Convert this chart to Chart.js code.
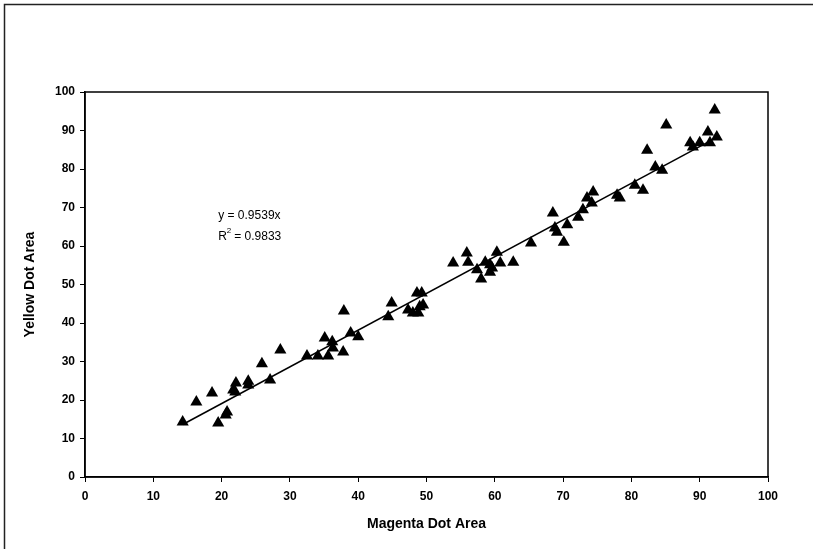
<!DOCTYPE html>
<html>
<head>
<meta charset="utf-8">
<script src="https://cdn.jsdelivr.net/npm/chart.js@4.4.1/dist/chart.umd.min.js"></script>
<style>
  html, body { margin: 0; padding: 0; background: #fff; }
  #wrap { width: 813px; height: 549px; }
</style>
</head>
<body>
<div id="wrap"><canvas id="grafico" width="813" height="549"></canvas></div>
<script>
// Area de punto magenta / amarillo
const magenta = [
  14.3, 16.3, 18.6, 19.5, 20.8, 20.6, 21.7, 22.1, 22.0, 23.9, 23.9, 25.9, 27.1,
  28.6, 32.5, 34.1, 35.1, 35.6, 36.2, 36.3, 37.8, 37.9, 38.9, 40.0,
  44.4, 44.9, 47.3, 48.0, 48.6, 49.3, 48.8, 49.5, 49.0,
  53.9, 55.9, 56.1, 57.4, 58.0, 58.6, 59.3, 59.3, 59.6, 60.3, 60.8, 62.7,
  65.3, 68.8, 69.1, 70.6, 70.1, 68.5,
  72.2, 72.9, 73.5, 74.4, 74.2, 77.9, 78.3, 80.5, 81.7, 83.5, 84.5,
  82.3, 85.1, 88.6, 89.0, 90.0, 91.2, 91.5, 92.5, 92.2
];
const amarillo = [
  14.3, 19.5, 21.8, 14.0, 16.9, 16.1, 22.6, 24.4, 22.1, 24.9, 23.9, 29.4, 25.2,
  33.0, 31.4, 31.4, 36.1, 31.4, 35.1, 33.5, 32.5, 43.1, 37.4, 36.4,
  41.6, 45.2, 43.4, 42.6, 47.8, 47.8, 42.6, 44.7, 44.2,
  55.6, 58.2, 55.8, 53.8, 51.4, 55.8, 55.1, 53.2, 54.3, 58.4, 55.6, 55.8,
  60.8, 64.7, 63.6, 65.5, 61.0, 68.6,
  67.5, 69.4, 72.5, 74.0, 71.2, 73.2, 72.5, 75.8, 74.5, 80.5, 79.7,
  84.9, 91.4, 86.8, 85.7, 86.8, 89.6, 86.8, 88.3, 95.3
];

// linea de tendencia y = pendiente * x
const pendiente = 0.9539;
const r2 = 0.9833;
const tendenciaX = [14.3, 92.5];
const ticksX = [0, 10, 20, 30, 40, 50, 60, 70, 80, 90, 100];
const ticksY = [0, 10, 20, 30, 40, 50, 60, 70, 80, 90, 100];

const fuente = "'Liberation Sans', Arial, sans-serif";

const puntos = magenta.map((x, i) => ({ x: x, y: amarillo[i] }));
const tendencia = tendenciaX.map(x => ({ x: x, y: pendiente * x }));

const marcos = {
  id: 'marcos',
  beforeDraw(chart) {
    const c = chart.ctx;
    c.save();
    c.fillStyle = '#fff';
    c.fillRect(0, 0, chart.width, chart.height);
    c.strokeStyle = '#222';
    c.lineWidth = 1.5;
    c.beginPath();
    c.moveTo(4.5, chart.height);
    c.lineTo(4.5, 4.5);
    c.lineTo(chart.width, 4.5);
    c.stroke();
    c.restore();
  },
  afterDatasetsDraw(chart) {
    const c = chart.ctx;
    const a = chart.chartArea;
    c.save();
    c.strokeStyle = '#000';
    c.lineWidth = 1.5;
    c.strokeRect(a.left, a.top, a.right - a.left, a.bottom - a.top);

    // ecuacion de la tendencia
    const sx = chart.scales.x, sy = chart.scales.y;
    const px = sx.getPixelForValue(19.5);
    const py = sy.getPixelForValue(68);
    c.fillStyle = '#000';
    c.font = '12px ' + fuente;
    c.textBaseline = 'middle';
    c.textAlign = 'left';
    c.fillText('y = ' + pendiente + 'x', px, py);
    c.fillText('R', px, py + 21);
    const w = c.measureText('R').width;
    c.font = '8px ' + fuente;
    c.fillText('2', px + w, py + 16);
    c.font = '12px ' + fuente;
    c.fillText(' = ' + r2, px + w + 4, py + 21);
    c.restore();
  }
};

new Chart(document.getElementById('grafico').getContext('2d'), {
  type: 'scatter',
  data: {
    datasets: [
      {
        label: 'datos',
        data: puntos,
        pointStyle: 'triangle',
        pointRadius: 7,
        backgroundColor: '#000',
        borderColor: '#000',
        borderWidth: 0
      },
      {
        label: 'tendencia',
        type: 'line',
        data: tendencia,
        borderColor: '#000',
        borderWidth: 1.5,
        pointRadius: 0,
        fill: false
      }
    ]
  },
  options: {
    responsive: false,
    animation: false,
    events: [],
    layout: { padding: { top: 92, right: 45, left: 0, bottom: 0 } },
    plugins: { legend: { display: false }, tooltip: { enabled: false } },
    scales: {
      x: {
        type: 'linear',
        min: 0, max: 100,
        afterBuildTicks(s) { s.ticks = ticksX.map(v => ({ value: v })); },
        afterFit(s) { s.height = 72; },
        grid: { drawOnChartArea: false, drawTicks: true, tickLength: 5, color: '#000' },
        border: { color: '#000', width: 1.5 },
        ticks: { color: '#000', font: { family: fuente, size: 12, weight: 'bold' }, padding: 7 },
        title: {
          display: true,
          text: 'Magenta Dot Area',
          color: '#000',
          font: { family: fuente, size: 14, weight: 'bold' },
          padding: { top: 0, bottom: 16 }
        }
      },
      y: {
        type: 'linear',
        min: 0, max: 100,
        afterBuildTicks(s) { s.ticks = ticksY.map(v => ({ value: v })); },
        afterFit(s) { s.width = 85; },
        grid: { drawOnChartArea: false, drawTicks: true, tickLength: 5, color: '#000' },
        border: { color: '#000', width: 1.5 },
        ticks: { color: '#000', font: { family: fuente, size: 12, weight: 'bold' }, padding: 5 },
        title: {
          display: true,
          text: 'Yellow Dot Area',
          color: '#000',
          font: { family: fuente, size: 14, weight: 'bold' },
          padding: { top: 22, bottom: 0 }
        }
      }
    }
  },
  plugins: [marcos]
});
</script>
</body>
</html>
